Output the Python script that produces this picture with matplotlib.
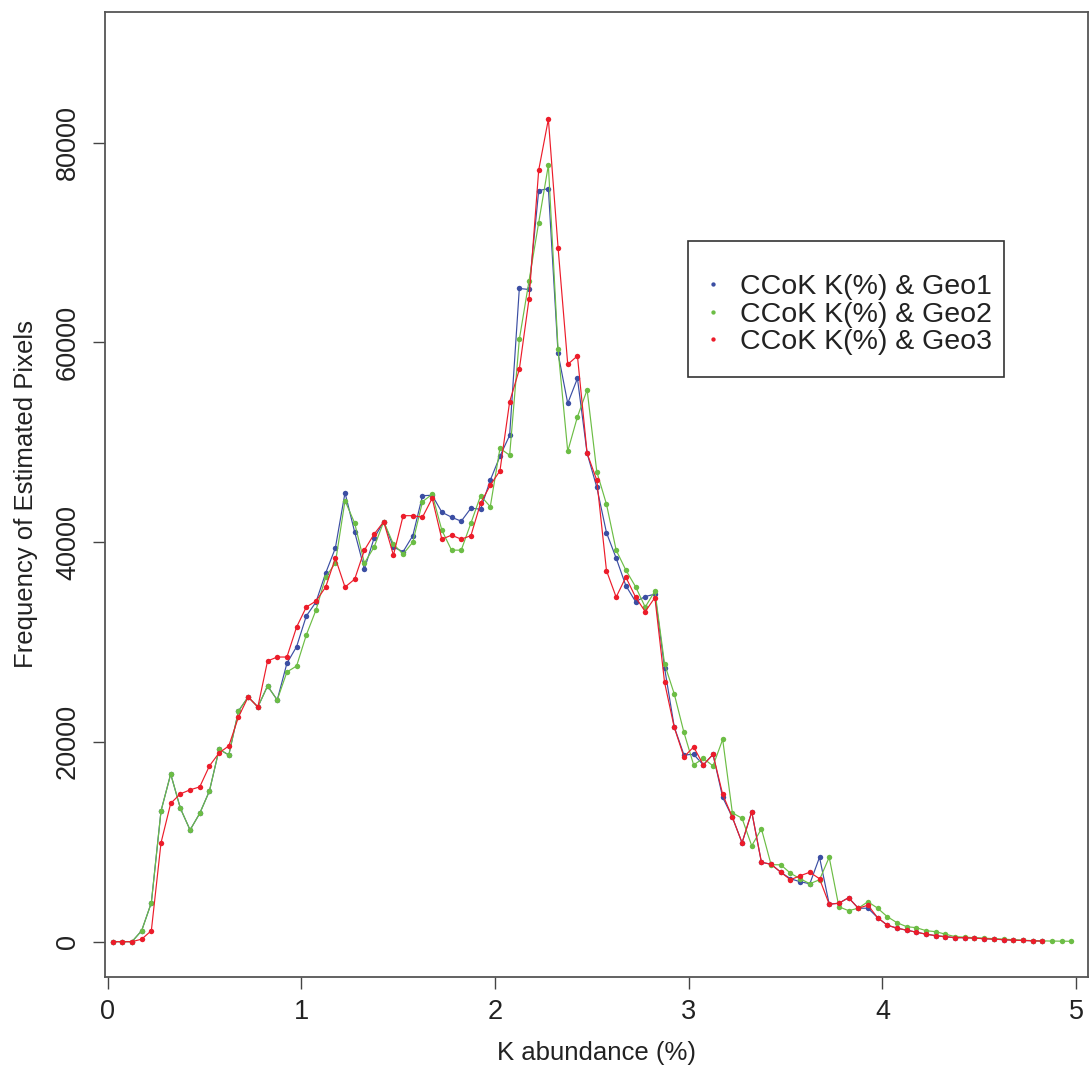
import numpy as np
import matplotlib
matplotlib.use("Agg")
import matplotlib.pyplot as plt
from matplotlib.patches import Rectangle

plt.rcParams['font.family'] = ['Liberation Sans', 'DejaVu Sans']

# центры бинов K(%), шаг 0.05
k_bins = np.round(np.arange(100) * 0.05 + 0.025, 3)

# Частоты пикселей
geo1 = [0, 0, 0, 1100, 3900, 13090, 16790, 13350, 11180, 12850,
        15090, 19260, 18690, 23100, 24500, 23500, 25600, 24200, 27870, 29540,
        32600, 34000, 36900, 39400, 44950, 41000, 37300, 40400, 42050, 39500,
        39050, 40650, 44650, 44700, 43000, 42500, 42100, 43400, 43300, 46200,
        48600, 50700, 65400, 65300, 75200, 75400, 58900, 53900, 56400, 48900,
        45500, 40950, 38400, 35650, 34050, 34550, 34800, 27400, 21500, 18700,
        18750, 17700, 18750, 14450, 12450, 9900, 13000, 7950, 7750, 6950,
        6300, 6000, 5800, 8450, 3750, 3850, 4400, 3350, 3350, 2400,
        1650, 1350, 1150, 950, 750, 600, 500, 400, 400, 350,
        300, 250, 200, 150, 120, 90, 60]
geo2 = [0, 0, 0, 1100, 3900, 13090, 16790, 13350, 11180, 12850,
        15090, 19260, 18690, 23100, 24500, 23500, 25600, 24200, 27000, 27600,
        30700, 33200, 36500, 37900, 44150, 41900, 37900, 39500, 42050, 39800,
        38800, 40000, 44050, 44800, 41200, 39200, 39200, 41900, 44650, 43550,
        49400, 48700, 60300, 66150, 72000, 77750, 59300, 49100, 52550, 55250,
        47050, 43800, 39200, 37200, 35550, 33500, 35100, 27800, 24800, 20950,
        17700, 18350, 17600, 20250, 12900, 12350, 9600, 11300, 7700, 7700,
        6850, 6300, 5800, 6200, 8450, 3500, 3100, 3350, 4000, 3350,
        2500, 1900, 1500, 1400, 1100, 1000, 750, 500, 450, 400,
        350, 300, 250, 200, 150, 100, 80, 60, 50, 40]
geo3 = [0, 0, 0, 250, 1100, 9900, 13850, 14800, 15200, 15500,
        17600, 18900, 19600, 22500, 24500, 23500, 28100, 28500, 28500, 31500,
        33500, 34100, 35500, 38400, 35500, 36300, 39200, 40800, 42050, 38700,
        42650, 42650, 42500, 44400, 40300, 40700, 40300, 40650, 43900, 45700,
        47150, 54050, 57300, 64350, 77250, 82350, 69500, 57800, 58650, 48900,
        46200, 37150, 34500, 36500, 34500, 33050, 34450, 25950, 21450, 18500,
        19500, 17700, 18750, 14750, 12450, 9900, 13000, 7950, 7750, 6950,
        6200, 6600, 6950, 6300, 3750, 3850, 4400, 3350, 3650, 2400,
        1650, 1350, 1150, 950, 750, 600, 500, 400, 400, 350,
        300, 250, 200, 150, 120, 90, 60]

labels = ["CCoK K(%) & Geo1", "CCoK K(%) & Geo2", "CCoK K(%) & Geo3"]
colors = ["#3b4ea3", "#6cbd45", "#ec1c2a"]

fig = plt.figure(figsize=(10.92, 10.77), dpi=100)
ax = fig.add_axes([0.0962, 0.0926, 0.9001, 0.8967])

for vals, lab, c in zip([geo1, geo2, geo3], labels, colors):
    ax.plot(k_bins[:len(vals)], vals, '-', color=c, lw=0.85,
            marker='o', markersize=3.9, markeredgewidth=0, label=lab)

ax.set_xlim(-0.014, 5.061)
ax.set_ylim(-3565, 93130)
ax.set_xticks([0, 1, 2, 3, 4, 5])
ax.set_yticks([0, 20000, 40000, 60000, 80000])
ax.tick_params(direction='out', length=8.4, width=1.0, color='#444444',
               labelsize=19.5, pad=7, labelcolor='#222222')
ax.tick_params(axis='y', pad=9)
for t in ax.get_yticklabels():
    t.set_rotation(90)
    t.set_va('center')
for s in ax.spines.values():
    s.set_color('#555555')
    s.set_linewidth(1.3)

ax.set_xlabel("K abundance (%)", fontsize=18.5, color='#222222', labelpad=12)
ax.set_ylabel("Frequency of Estimated Pixels", fontsize=18.5, color='#222222', labelpad=12)

# легенда без рамки + рамка отдельно (как в R)
leg = ax.legend(loc='upper left', bbox_to_anchor=(0.6465, 0.7452),
                bbox_transform=fig.transFigure, fontsize=20.5, frameon=False,
                handlelength=0.5, handletextpad=0.7,
                borderpad=0, labelspacing=0.04, borderaxespad=0,
                markerscale=0.8)
for h in leg.legend_handles:
    h.set_linestyle('None')
for t in leg.get_texts():
    t.set_color('#222222')
fig.patches.append(Rectangle((0.630, 0.650), 0.2894, 0.1263, transform=fig.transFigure,
                             fill=False, edgecolor='#333333', linewidth=1.2))

fig.savefig("out.png", dpi=100)
